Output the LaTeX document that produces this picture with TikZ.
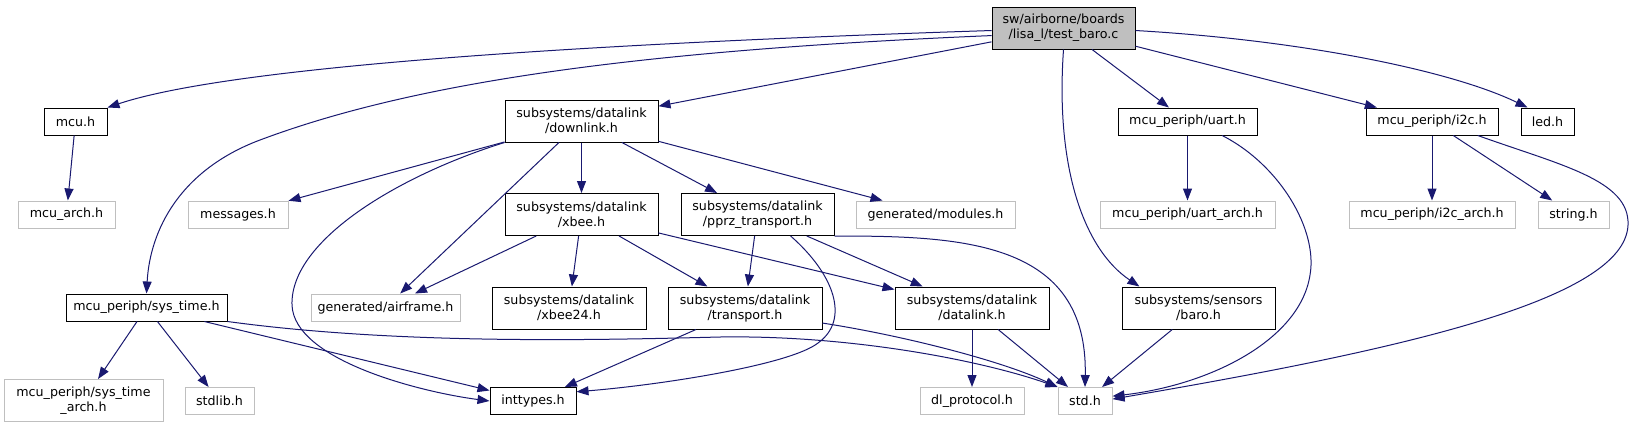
\documentclass[tikz,border=0pt]{standalone}
\usepackage{fontspec}
\setmainfont{DejaVu Sans}
\usepackage{tikz}
\usetikzlibrary{arrows.meta}
\definecolor{dgedge}{HTML}{191970}
\definecolor{dggray}{HTML}{BFBFBF}

\begin{document}
\begin{tikzpicture}[x=0.75pt, y=-0.75pt,
      font=\fontsize{9.5}{11.25}\selectfont,
      box/.style={rectangle, line width=0.75pt, inner sep=0pt,
                  minimum height=20.25pt, align=center},
      hdr/.style={box, draw=black, fill=white},
      ext/.style={box, draw=dggray, fill=white},
      rt/.style={box, draw=black, fill=dggray},
      two/.style={minimum height=31.5pt},
      wd/.style={minimum width=#1*0.75pt},
      dep/.style={-{Triangle[length=9pt, width=6.75pt]}, draw=dgedge, line width=0.75pt},
    ]
    \useasboundingbox[fill=white] (0,0) rectangle (1634,429);

    % top row
    \node[rt, two, wd=143] (root) at (1063.5,28) {sw/airborne/boards\\/lisa\_l/test\_baro.c};
    \node[hdr, wd=63]  (mcu)  at (75.5,121.5)   {mcu.h};
    \node[hdr, two, wd=153] (dl) at (581.5,121) {subsystems/datalink\\/downlink.h};
    \node[hdr, wd=139] (uart) at (1187.5,121.5) {mcu\_periph/uart.h};
    \node[hdr, wd=132] (i2c)  at (1432,121.5)   {mcu\_periph/i2c.h};
    \node[hdr, wd=53]  (led)  at (1547.5,121.5) {led.h};

    \node[ext, wd=97]  (mcuarch)  at (66.5,214.5)   {mcu\_arch.h};
    \node[ext, wd=100] (msg)      at (238,214.5)    {messages.h};
    \node[hdr, two, wd=153] (xbee) at (581.5,214.5) {subsystems/datalink\\/xbee.h};
    \node[hdr, two, wd=153] (pprz) at (757.5,214.5) {subsystems/datalink\\/pprz\_transport.h};
    \node[ext, wd=159] (mod)      at (935.5,214.5)  {generated/modules.h};
    \node[ext, wd=175] (uartarch) at (1187.5,214.5) {mcu\_periph/uart\_arch.h};
    \node[ext, wd=166] (i2carch)  at (1432,214.5)   {mcu\_periph/i2c\_arch.h};
    \node[ext, wd=71]  (str)      at (1573.5,214.5) {string.h};

    \node[hdr, wd=161] (sys) at (146.5,307.5) {mcu\_periph/sys\_time.h};
    \node[ext, wd=149] (afr) at (385.5,307.5) {generated/airframe.h};
    \node[hdr, two, wd=154] (xb24) at (569,308)    {subsystems/datalink\\/xbee24.h};
    \node[hdr, two, wd=154] (tr)   at (745,308)    {subsystems/datalink\\/transport.h};
    \node[hdr, two, wd=154] (dlk)  at (972,308)    {subsystems/datalink\\/datalink.h};
    \node[hdr, two, wd=153] (baro) at (1198.5,308) {subsystems/sensors\\/baro.h};

    % bottom row
    \node[ext, two, wd=159] (sysarch) at (83.5,400.5) {mcu\_periph/sys\_time\\\_arch.h};
    \node[ext, wd=69]  (stdlib) at (219.5,401) {stdlib.h};
    \node[hdr, wd=86]  (ity)    at (533,401)   {inttypes.h};
    \node[ext, wd=104] (dlp)    at (972,401)   {dl\_protocol.h};
    \node[ext, wd=54]  (std)    at (1085,401)  {std.h};

    % includes of the root file
    \draw[dep] (root.182) .. controls (700,40) and (250,60) .. (mcu.north east);
    \draw[dep] (root.186) .. controls (650,50) and (420,80) .. (260,140)
                          .. controls (180,170) and (150,230) .. (sys.north);
    \draw[dep] (root) -- (dl);
    \draw[dep] (root.south) .. controls (1055,170) and (1085,250) .. (baro.160);
    \draw[dep] (root) -- (uart);
    \draw[dep] (root) -- (i2c);
    \draw[dep] (root.-2) .. controls (1300,40) and (1450,70) .. (led.145);

    % datalink headers
    \draw[dep] (dl) -- (msg);
    \draw[dep] (dl) -- (afr);
    \draw[dep] (dl.south west) .. controls (400,175) and (290,240) .. (292,305)
                               .. controls (294,360) and (420,392) .. (ity.west);
    \draw[dep] (dl) -- (xbee);
    \draw[dep] (dl) -- (pprz);
    \draw[dep] (dl) -- (mod);
    \draw[dep] (xbee) -- (afr);
    \draw[dep] (xbee) -- (xb24);
    \draw[dep] (xbee) -- (tr);
    \draw[dep] (xbee) -- (dlk);
    \draw[dep] (pprz) -- (tr);
    \draw[dep] (pprz.-33) .. controls (835,275) and (850,320) .. (818,343)
                          .. controls (790,365) and (660,385) .. (ity.12);
    \draw[dep] (pprz) -- (dlk);
    \draw[dep] (pprz.south east) .. controls (960,236) and (1088,240) .. (std.north);
    \draw[dep] (tr) -- (ity);
    \draw[dep] (tr.-11) .. controls (900,335) and (1000,360) .. (std.north west);
    \draw[dep] (dlk) -- (dlp);
    \draw[dep] (dlk) -- (std);

    % mcu headers
    \draw[dep] (sys) -- (sysarch);
    \draw[dep] (sys) -- (stdlib);
    \draw[dep] (sys) -- (ity);
    \draw[dep] (sys.south east) .. controls (400,345) and (600,340) .. (720,337)
                                .. controls (850,335) and (980,360) .. (std.north west);
    \draw[dep] (mcu) -- (mcuarch);
    \draw[dep] (uart) -- (uartarch);
    \draw[dep] (uart.-22) .. controls (1280,165) and (1318,230) .. (1310,275)
                          .. controls (1300,340) and (1210,385) .. (std.10);
    \draw[dep] (i2c) -- (i2carch);
    \draw[dep] (i2c) -- (str);
    \draw[dep] (i2c.-17) .. controls (1560,165) and (1630,180) .. (1628,225)
                         .. controls (1625,300) and (1400,350) .. (std.4);
    \draw[dep] (baro) -- (std);

  \end{tikzpicture}
\end{document}
